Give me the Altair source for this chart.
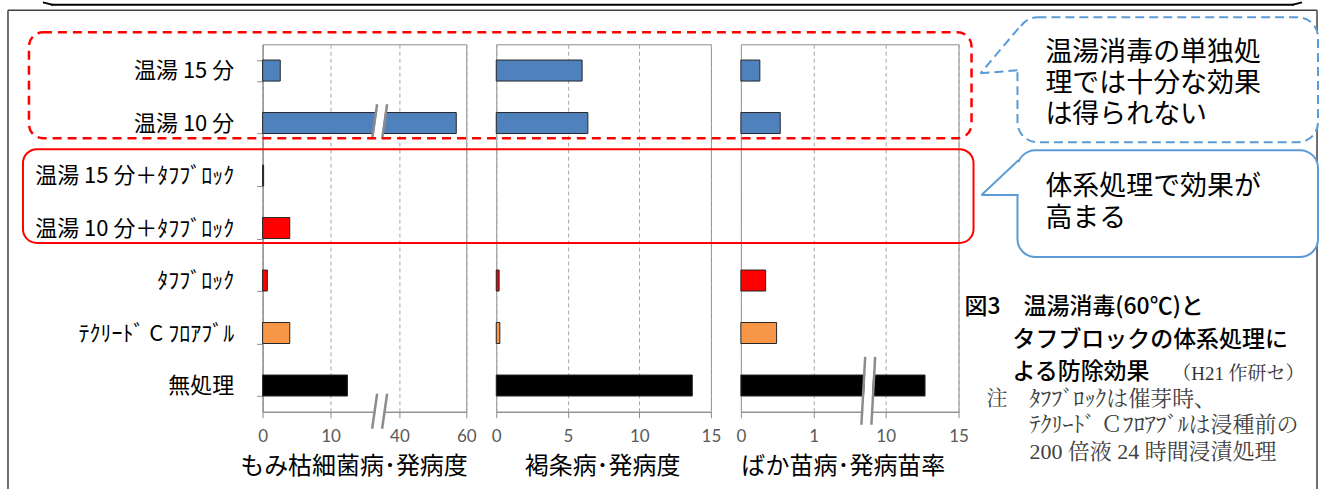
import altair as alt
import pandas as pd

# ---------------- data ----------------
categories = ["温湯 15 分", "温湯 10 分", "温湯 15 分＋ﾀﾌﾌﾞﾛｯｸ", "温湯 10 分＋ﾀﾌﾌﾞﾛｯｸ",
              "ﾀﾌﾌﾞﾛｯｸ", "ﾃｸﾘｰﾄﾞ C ﾌﾛｱﾌﾞﾙ", "無処理"]
bar_colors = ["#4F81BD", "#4F81BD", "#FF0000", "#FF0000", "#FF0000", "#F79646", "#000000"]
momigare = [2.6, 57.0, 0.15, 4.0, 0.7, 4.0, 12.5]      # もみ枯細菌病・発病度
kasshou = [6.0, 6.4, 0.0, 0.0, 0.2, 0.25, 13.7]        # 褐条病・発病度
bakanae = [0.26, 0.54, 0.0, 0.0, 0.34, 0.49, 12.7]     # ばか苗病・発病苗率
titles = ["もみ枯細菌病･発病度", "褐条病･発病度", "ばか苗病･発病苗率"]
ticks1 = [0, 10, 40, 60]
ticks2 = [0, 5, 10, 15]
ticks3 = [0, 1, 10, 15]
callout1 = ["温湯消毒の単独処", "理では十分な効果", "は得られない"]
callout2 = ["体系処理で効果が", "高まる"]
caption = ["図3　温湯消毒(60℃)と", "タフブロックの体系処理に", "よる防除効果"]
caption_src = "（H21 作研セ）"
notes = ["ﾀﾌﾌﾞﾛｯｸは催芽時、", "ﾃｸﾘｰﾄﾞ Ｃﾌﾛｱﾌﾞﾙは浸種前の", "200 倍液 24 時間浸漬処理"]

FONT = "Noto Sans CJK JP"
CALLOUT_FONT = "Liberation Sans, Noto Sans CJK JP"
NUM_FONT = "Lato"
SERIF = "Liberation Serif, Noto Serif CJK JP, Noto Sans CJK JP"
GRAY = "#8c8c8c"
BLUE_LINE = "#5B9BD5"
one = pd.DataFrame({"k": [0]})


# ---------------- decoration helpers (absolute px -> panel px) ----------------
def drect(o, x1, y1, x2, y2, **kw):
    return alt.Chart(one).mark_rect(**kw).encode(
        x=alt.value(x1 - o[0]), x2=alt.value(x2 - o[0]),
        y=alt.value(y1 - o[1]), y2=alt.value(y2 - o[1]))


def dline(o, x1, y1, x2, y2, **kw):
    return alt.Chart(one).mark_rule(**kw).encode(
        x=alt.value(x1 - o[0]), x2=alt.value(x2 - o[0]),
        y=alt.value(y1 - o[1]), y2=alt.value(y2 - o[1]))


def dtext(o, x, y, s, **kw):
    kw.setdefault("align", "left")
    kw.setdefault("baseline", "middle")
    kw.setdefault("font", FONT)
    return alt.Chart(one).mark_text(**kw).encode(
        x=alt.value(x - o[0]), y=alt.value(y - o[1]), text=alt.value(s))


def brk(o, xb, xt, yb, yt):
    # axis-break mark: white band and two grey slanted strokes
    return [
        dline(o, xb + 5, yb, xt + 5, yt, color="white", strokeWidth=8),
        dline(o, xb, yb, xt, yt, color=GRAY, strokeWidth=2.5),
        dline(o, xb + 10, yb, xt + 10, yt, color=GRAY, strokeWidth=2.5),
    ]


# ---------------- panel builder ----------------
def panel(vals, title, domain, rng, ticks, width, show_y, title_x, extra):
    df = pd.DataFrame({"区分": categories, "値": vals})
    if show_y:
        yax = alt.Axis(title=None, labelFont=FONT, labelFontSize=22, labelColor="#000000",
                       labelPadding=23, labelLimit=400, tickBand="extent", tickSize=6,
                       tickColor=GRAY, domainColor=GRAY, grid=False)
    else:
        yax = None
    xax = alt.Axis(values=ticks, title=title, grid=True, gridColor="#a6a6a6",
                   gridDash=[4, 3], gridWidth=1, format="d",
                   labelFont=NUM_FONT, labelFontSize=17, labelColor="#595959",
                   labelFlush=False, labelOverlap=False, labelPadding=11,
                   tickSize=6, tickColor=GRAY, domainColor=GRAY,
                   titleFont=FONT, titleFontSize=24, titleFontWeight="normal",
                   titleColor="#000000", titlePadding=10, titleX=title_x, titleAlign="center")
    bars = alt.Chart(df).transform_filter("datum['値'] > 0").mark_bar(
        stroke="#262626", strokeWidth=1).encode(
        x=alt.X("値:Q", scale=alt.Scale(domain=domain, range=rng, nice=False), axis=xax),
        y=alt.Y("区分:N", sort=categories,
                scale=alt.Scale(domain=categories, paddingInner=0.6, paddingOuter=0.3),
                axis=yax),
        color=alt.Color("区分:N", scale=alt.Scale(domain=categories, range=bar_colors),
                        legend=None),
    )
    return alt.layer(bars, *extra).properties(width=width, height=368)


O1 = (262, 42)
O2 = (496, 42)
O3 = (741, 42)

extra1 = brk(O1, 371.7, 376.7, 137, 102) + brk(O1, 371.7, 376.7, 427, 392)

extra3 = [drect(O3, 0, 0, 1327, 489, opacity=0)]
extra3 += brk(O3, 861.7, 865.5, 423, 355)
# outer frames
extra3 += [
    dline(O3, 50, 2.5, 1295, 2.5, color="#000000", strokeWidth=2),
    dline(O3, 42, 0, 52, 2.5, color="#000000", strokeWidth=2),
    dline(O3, 1293, 2.5, 1303, 0, color="#000000", strokeWidth=2),
    dline(O3, 7, 8, 1318, 8, color="#404040", strokeWidth=1.5),
    dline(O3, 7, 8, 7, 489, color="#404040", strokeWidth=1.5),
    dline(O3, 1318, 8, 1318, 489, color="#404040", strokeWidth=1.5),
]
# red group boxes
extra3 += [
    drect(O3, 28, 30, 972, 136, fillOpacity=0, stroke="#FF0000", strokeWidth=2.5,
          strokeDash=[9, 6], cornerRadius=14),
    drect(O3, 22, 147, 974, 241, fillOpacity=0, stroke="#FF0000", strokeWidth=2,
          cornerRadius=14),
]
# callout 1 (dashed)
extra3 += [
    drect(O3, 1018, 15, 1319, 140, fill="white", stroke=BLUE_LINE, strokeWidth=2,
          strokeDash=[9, 5], cornerRadius=20),
    drect(O3, 1014, 27, 1023, 67, fill="white"),
    dline(O3, 1019, 26, 981, 71, color=BLUE_LINE, strokeWidth=2, strokeDash=[9, 5]),
    dline(O3, 981, 71, 1019, 68, color=BLUE_LINE, strokeWidth=2, strokeDash=[9, 5]),
]
extra3 += [dtext(O3, 1046, 51 + 31 * i, s, fontSize=27, font=CALLOUT_FONT,
                 color="#000000") for i, s in enumerate(callout1)]
# callout 2 (solid)
extra3 += [
    drect(O3, 1018, 148, 1319, 255, fill="white", stroke=BLUE_LINE, strokeWidth=2,
          cornerRadius=18),
    drect(O3, 1014, 160, 1023, 192, fill="white"),
    dline(O3, 1019, 158, 982, 193, color=BLUE_LINE, strokeWidth=2),
    dline(O3, 982, 193, 1019, 193, color=BLUE_LINE, strokeWidth=2),
]
extra3 += [dtext(O3, 1046, 185 + 32 * i, s, fontSize=27, font=CALLOUT_FONT,
                 color="#000000") for i, s in enumerate(callout2)]
# caption
extra3 += [
    dtext(O3, 965, 305, caption[0], fontSize=23, fontWeight=500, color="#000000"),
    dtext(O3, 1013, 338, caption[1], fontSize=23, fontWeight=500, color="#000000"),
    dtext(O3, 1013, 370, caption[2], fontSize=23, fontWeight=500, color="#000000"),
    dtext(O3, 1173, 372, caption_src, fontSize=19, font=SERIF, color="#333333"),
    dtext(O3, 987, 397, "注", fontSize=21, font=SERIF, color="#404040"),
]
extra3 += [dtext(O3, 1030, 397 + 26.5 * i, s, fontSize=22, font=SERIF, color="#404040")
           for i, s in enumerate(notes)]

p1 = panel(momigare, titles[0], [0, 10, 20, 40, 60], [0, 68, 136, 137, 204], ticks1,
           204, True, 91, extra1)
p2 = panel(kasshou, titles[1], [0, 15], [0, 215], ticks2, 215, False, 106, [])
p3 = panel(bakanae, titles[2], [0, 1, 10, 15], [0, 73, 145, 218], ticks3,
           218, False, 102, extra3)

chart = alt.hconcat(p1, p2, p3, spacing=30, bounds="flush").properties(
    padding=0, background="white"
).configure_view(stroke=GRAY, strokeWidth=1)

chart.save("out.html", embed_options={"renderer": "svg", "actions": False})
